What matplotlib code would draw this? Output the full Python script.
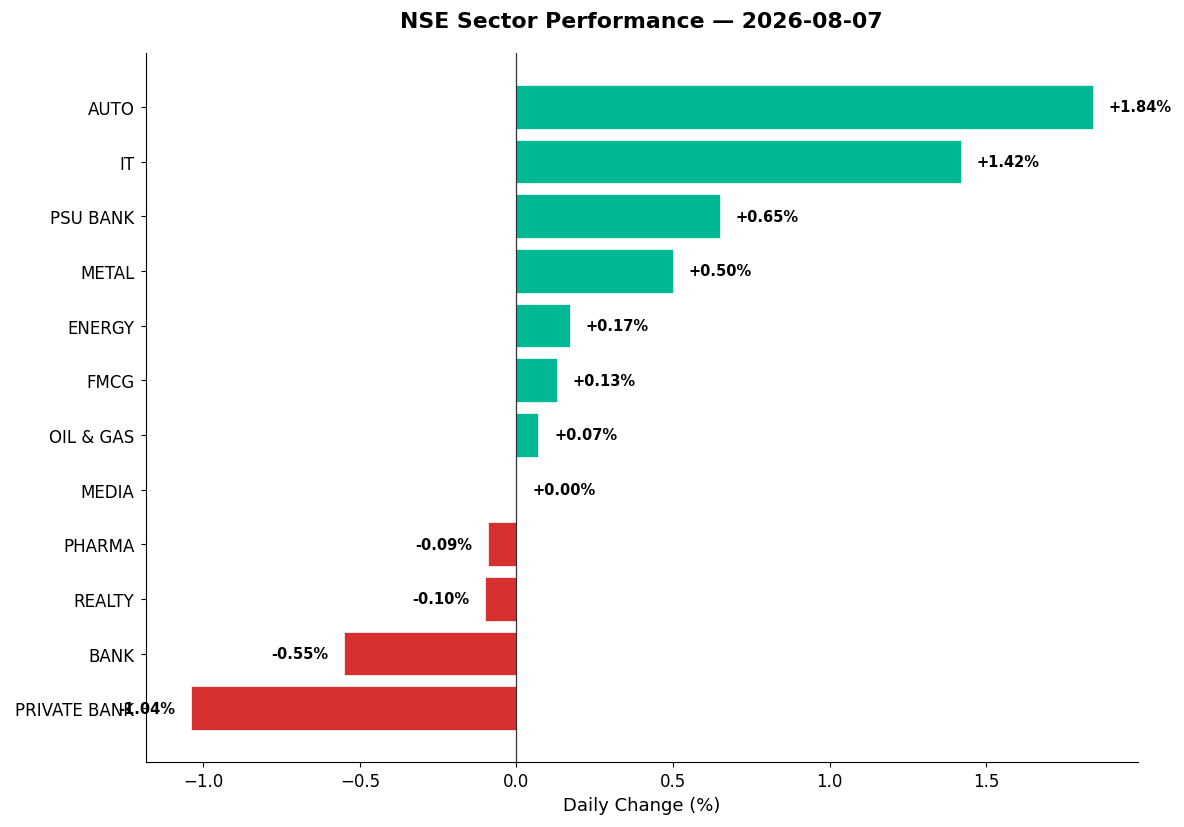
import matplotlib
matplotlib.use("Agg")
import matplotlib.pyplot as plt

sectors = ["PRIVATE BANK", "BANK", "REALTY", "PHARMA", "MEDIA", "OIL & GAS",
           "FMCG", "ENERGY", "METAL", "PSU BANK", "IT", "AUTO"]
changes = [-1.04, -0.55, -0.10, -0.09, 0.00, 0.07, 0.13, 0.17, 0.50, 0.65, 1.42, 1.84]
title = "NSE Sector Performance — 2026-08-07"

fig, ax = plt.subplots(figsize=(11.84, 8.28), dpi=100)
fig.subplots_adjust(left=0.123, right=0.961, top=0.935, bottom=0.078)

colors = ["#00b894" if v >= 0 else "#d63031" for v in changes]
ax.barh(range(len(sectors)), changes, height=0.8, color=colors,
        edgecolor="white", linewidth=0.5)
ax.set_yticks(range(len(sectors)))
ax.set_yticklabels(sectors, fontsize=12)
ax.tick_params(axis="x", labelsize=12)
ax.tick_params(axis="y", pad=4.5)
ax.axvline(0, color="#333333", linewidth=0.9)

for i, v in enumerate(changes):
    off = 0.05 if v >= 0 else -0.05
    ax.text(v + off, i, f"{v:+.2f}%", va="center",
            ha="left" if v >= 0 else "right", fontsize=10.5, fontweight="bold")

ax.set_xlabel("Daily Change (%)", fontsize=13)
ax.set_title(title, fontsize=15.8, fontweight="bold", pad=18.5)
ax.spines["top"].set_visible(False)
ax.spines["right"].set_visible(False)

fig.savefig("out.png", dpi=100)
